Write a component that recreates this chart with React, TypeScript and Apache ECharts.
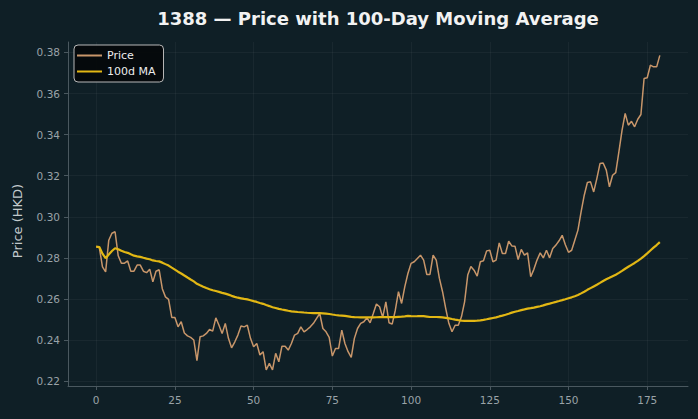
import React, { useEffect, useRef } from "react";
import * as echarts from "echarts";

// Daily closing prices (HKD), trading-day index 0..179
const priceValues: number[] = [
  0.2855, 0.2850, 0.2756, 0.2732, 0.2886, 0.2920, 0.2927, 0.2810, 0.2774, 0.2774,
  0.2785, 0.2735, 0.2735, 0.2765, 0.2765, 0.2735, 0.2728, 0.2745, 0.2683, 0.2735,
  0.2742, 0.2650, 0.2610, 0.2598, 0.2510, 0.2510, 0.2464, 0.2489, 0.2434, 0.2420,
  0.2413, 0.2400, 0.2300, 0.2416, 0.2420, 0.2432, 0.2451, 0.2443, 0.2508, 0.2472,
  0.2432, 0.2481, 0.2408, 0.2362, 0.2390, 0.2424, 0.2468, 0.2464, 0.2472, 0.2408,
  0.2367, 0.2383, 0.2327, 0.2343, 0.2254, 0.2286, 0.2254, 0.2335, 0.2294, 0.2370,
  0.2370, 0.2351, 0.2383, 0.2424, 0.2432, 0.2464, 0.2440, 0.2451, 0.2464, 0.2481,
  0.2505, 0.2529, 0.2456, 0.2440, 0.2413, 0.2322, 0.2359, 0.2359, 0.2448, 0.2383,
  0.2343, 0.2315, 0.2408, 0.2456, 0.2481, 0.2489, 0.2508, 0.2484, 0.2529, 0.2575,
  0.2562, 0.2510, 0.2586, 0.2484, 0.2477, 0.2545, 0.2635, 0.2578, 0.2659, 0.2724,
  0.2773, 0.2781, 0.2797, 0.2813, 0.2789, 0.2719, 0.2719, 0.2813, 0.2789, 0.2700,
  0.2635, 0.2554, 0.2481, 0.2440, 0.2472, 0.2472, 0.2513, 0.2586, 0.2716, 0.2758,
  0.2740, 0.2711, 0.2781, 0.2786, 0.2834, 0.2837, 0.2781, 0.2789, 0.2873, 0.2821,
  0.2821, 0.2881, 0.2858, 0.2857, 0.2792, 0.2841, 0.2813, 0.2824, 0.2708, 0.2744,
  0.2789, 0.2824, 0.2800, 0.2837, 0.2800, 0.2846, 0.2862, 0.2883, 0.2910, 0.2864,
  0.2827, 0.2837, 0.2886, 0.2935, 0.3024, 0.3105, 0.3167, 0.3170, 0.3121, 0.3186,
  0.3259, 0.3262, 0.3227, 0.3146, 0.3202, 0.3215, 0.3316, 0.3421, 0.3503, 0.3446,
  0.3465, 0.3438, 0.3475, 0.3498, 0.3673, 0.3677, 0.3738, 0.3730, 0.3730, 0.3786,
];

const MA_WINDOW = 100;
const xTicks: number[] = [0, 25, 50, 75, 100, 125, 150, 175];
const yTicks: number[] = [0.22, 0.24, 0.26, 0.28, 0.3, 0.32, 0.34, 0.36, 0.38];

const TITLE = "1388 — Price with 100-Day Moving Average";
const PRICE_NAME = "Price";
const MA_NAME = "100d MA";
const Y_NAME = "Price (HKD)";

// Rolling mean over the trailing window (shorter at the start)
function rollingMean(values: number[], window: number): number[] {
  const out: number[] = [];
  let sum = 0;
  for (let i = 0; i < values.length; i++) {
    sum += values[i];
    if (i >= window) sum -= values[i - window];
    out.push(sum / Math.min(i + 1, window));
  }
  return out;
}

const FONT = "DejaVu Sans";
const PRICE_COLOR = "#c8966a";
const MA_COLOR = "#e2b714";

export default function App() {
  const ref = useRef<HTMLDivElement>(null);

  useEffect(() => {
    document.body.style.margin = "0";
    if (!ref.current) return;
    const chart = echarts.init(ref.current, undefined, { renderer: "svg" });

    const maValues = rollingMean(priceValues, MA_WINDOW);
    const priceData = priceValues.map((v, i) => [i, v]);
    const maData = maValues.map((v, i) => [i, v]);
    const n = priceValues.length - 1;
    const pad = n * 0.05;

    const axisColor = "#4a585f";
    const gridColor = "rgba(255,255,255,0.045)";
    const tickLabelColor = "#9aa3a8";

    chart.setOption({
      animation: false,
      backgroundColor: "#0f1f26",
      textStyle: { fontFamily: FONT },
      graphic: [
        {
          type: "text",
          x: 378,
          y: 18,
          style: {
            text: TITLE,
            fill: "#f2f2f2",
            font: `bold 18px "${FONT}"`,
            textAlign: "center",
            textVerticalAlign: "middle",
          },
        },
      ],
      legend: {
        orient: "vertical",
        left: 74,
        top: 45,
        data: [
          { name: PRICE_NAME, icon: "rect", itemStyle: { color: PRICE_COLOR } },
          { name: MA_NAME, icon: "rect", itemStyle: { color: MA_COLOR } },
        ],
        itemWidth: 25,
        itemHeight: 2,
        itemGap: 5,
        padding: [5, 8, 5, 3],
        backgroundColor: "rgba(4,8,10,0.92)",
        borderColor: "#b8b8b8",
        borderWidth: 1,
        borderRadius: 4,
        textStyle: { color: "#ececec", fontSize: 11, fontFamily: FONT, lineHeight: 10 },
      },
      grid: { left: 68, right: 10, top: 42, bottom: 33, containLabel: false },
      xAxis: {
        type: "value",
        min: -pad,
        max: n + pad,
        axisLine: { show: true, onZero: false, lineStyle: { color: axisColor, width: 1 } },
        axisTick: {
          show: true,
          length: 4,
          customValues: xTicks,
          lineStyle: { color: axisColor },
        },
        axisLabel: {
          customValues: xTicks,
          color: tickLabelColor,
          fontSize: 10.5,
          margin: 8,
          fontFamily: FONT,
        },
        splitLine: { show: true, lineStyle: { color: gridColor, width: 1 } },
      },
      yAxis: {
        type: "value",
        min: 0.2176,
        max: 0.3851,
        name: Y_NAME,
        nameLocation: "middle",
        nameGap: 44,
        nameTextStyle: {
          color: "#c3cacd",
          fontSize: 13,
          fontFamily: FONT,
          padding: [0, 14, 0, 0],
        },
        axisLine: { show: true, onZero: false, lineStyle: { color: axisColor, width: 1 } },
        axisTick: {
          show: true,
          length: 4,
          customValues: yTicks,
          lineStyle: { color: axisColor },
        },
        axisLabel: {
          customValues: yTicks,
          color: tickLabelColor,
          fontSize: 10.5,
          margin: 8,
          fontFamily: FONT,
          formatter: (v: number) => v.toFixed(2),
        },
        splitLine: { show: true, lineStyle: { color: gridColor, width: 1 } },
      },
      series: [
        {
          name: PRICE_NAME,
          type: "line",
          data: priceData,
          symbol: "none",
          lineStyle: { color: PRICE_COLOR, width: 1.5 },
          itemStyle: { color: PRICE_COLOR },
        },
        {
          name: MA_NAME,
          type: "line",
          data: maData,
          symbol: "none",
          lineStyle: { color: MA_COLOR, width: 2.2 },
          itemStyle: { color: MA_COLOR },
        },
      ],
    });

    return () => chart.dispose();
  }, []);

  return <div ref={ref} style={{ width: 698, height: 419 }} />;
}
